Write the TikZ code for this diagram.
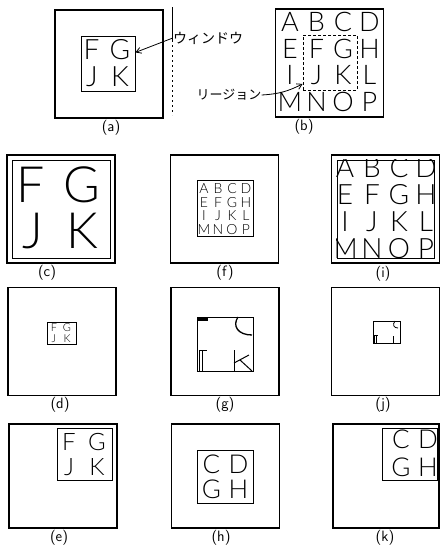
\documentclass[tikz,border=0pt]{standalone}
\usepackage{fontspec}
\newfontfamily\jpfont{Noto Sans CJK JP}
\newfontfamily\thinfont{Lato Light}
\usetikzlibrary{arrows.meta,positioning}

\begin{document}
\begin{tikzpicture}[x=1pt, y=-1pt,
  frame/.style={draw, line width=1.3pt, minimum width=108pt, minimum height=108pt, inner sep=0pt},
  win/.style={draw, line width=0.8pt, inner sep=0pt},
  region/.style={win, dash pattern=on 3pt off 2pt},
  glyph/.style={inner sep=0pt, font=\thinfont\fontsize{#1}{#1}\selectfont},
  tag/.style={inner sep=0pt, font=\sffamily\fontsize{15}{15}\selectfont},
  jp/.style={inner sep=0pt, font=\jpfont\fontsize{#1}{#1}\selectfont},
  line/.style={-{Straight Barb[length=5pt,width=6pt]}, line width=0.8pt},
  piece/.style={line width=1.3pt}
]
\useasboundingbox (0,0) rectangle (440,547);

% (a) window on the picture
\node[frame] (fa) at (109,64) {};
\node[win, minimum width=54pt, minimum height=55pt] (wa) at (108,63.5) {};
\node[glyph=28] (aF) at (91.5,50) {F};
\node[glyph=28] (aG) at (120,50) {G};
\node[glyph=28] (aJ) at (92,77) {J};
\node[glyph=28] (aK) at (120,77) {K};
\node[tag] (la) at (111,128) {(a)};

\draw[line width=0.6pt] (172,7) -- (172,40);
\draw[line width=0.5pt, dash pattern=on 2pt off 3pt] (172,40) -- (172,115);

\node[jp=14] (tw) at (208,38) {ウィンドウ};
\draw[line] (tw.west) -- (wa.22);

% (b) region
\node[frame, line width=1.7pt] (fb) at (329.5,63) {};
\foreach \ch [count=\i from 0] in {A,B,C,D,E,F,G,H,I,J,K,L,M,N,O,P} {
  \pgfmathtruncatemacro\cc{mod(\i,4)}
  \pgfmathtruncatemacro\rr{div(\i,4)}
  \node[glyph=27] (b\ch) at (290+26.5*\cc, 22+26.7*\rr) {\ch};
}
\node[region, minimum width=54pt, minimum height=55pt] (rb) at (330,62.5) {};
\node[tag] (lb) at (304,127) {(b)};

\node[jp=13] (tr) at (229,95) {リージョン};
\draw[line] (tr.east) to[bend right=12] (rb.218);

% (c)
\node[frame] (fc) at (61,209) {};
\node[win, minimum width=98pt, minimum height=98pt] (wc) at (61,209) {};
\node[glyph=50] (cF) at (31,185) {F};
\node[glyph=50] (cG) at (82,185) {G};
\node[glyph=50] (cJ) at (33,231) {J};
\node[glyph=50] (cK) at (82,231) {K};
\node[tag] (lc) at (47,273) {(c)};

% (f)
\node[frame] (ff) at (224.5,209) {};
\node[win, minimum width=56pt, minimum height=56pt] (wf) at (225,208) {};
\foreach \ch [count=\i from 0] in {A,B,C,D,E,F,G,H,I,J,K,L,M,N,O,P} {
  \pgfmathtruncatemacro\cc{mod(\i,4)}
  \pgfmathtruncatemacro\rr{div(\i,4)}
  \node[glyph=14] (f\ch) at (204+14*\cc, 189+13.5*\rr) {\ch};
}
\node[tag] (lf) at (225,273) {(f)};

% (i)
\node[frame] (fi) at (385.5,209) {};
\node[win, minimum width=97pt, minimum height=98pt] (wi) at (385.5,209) {};
\begin{scope}
  \clip (wi.north west) rectangle (wi.south east);
  \foreach \ch [count=\i from 0] in {A,B,C,D,E,F,G,H,I,J,K,L,M,N,O,P} {
    \pgfmathtruncatemacro\cc{mod(\i,4)}
    \pgfmathtruncatemacro\rr{div(\i,4)}
    \node[glyph=28] (i\ch) at (345+27*\cc, 168+27*\rr) {\ch};
  }
\end{scope}
\node[tag] (li) at (383,274) {(i)};

% (d)
\node[frame] (fd) at (62,341.5) {};
\node[win, minimum width=29pt, minimum height=22pt] (wd) at (61.5,333) {};
\node[glyph=11] (dF) at (54,328) {F};
\node[glyph=11] (dG) at (67,328) {G};
\node[glyph=11] (dJ) at (54,339) {J};
\node[glyph=11] (dK) at (67,339) {K};
\node[tag] (ld) at (60,405) {(d)};

% (g)
\node[frame] (fg) at (225,341.5) {};
\node[win, minimum width=56pt, minimum height=54pt] (wg) at (225,344) {};
\fill (198,317.5) rectangle (208,320.5);
\draw[piece] (238,317) .. controls (232,326) and (238,335) .. (252,335);
\draw[line width=0.9pt] (199,350) -- (207,350);
\draw[line width=0.9pt] (199.5,350) -- (199.5,371);
\draw[line width=0.9pt] (202.5,350) -- (202.5,371);
\draw[line width=1pt] (234,350) -- (234,371);
\draw[line width=1pt] (234,363) -- (249,355);
\draw[line width=1pt] (240,360) -- (252,371);
\node[tag] (lg) at (225,405) {(g)};

% (j)
\node[frame] (fj) at (385.5,341.5) {};
\node[win, minimum width=27pt, minimum height=22pt] (wj) at (386.5,332) {};
\draw[line width=0.8pt] (395,321) .. controls (392,325) and (394,328) .. (398,328);
\draw[line width=0.8pt] (374,335) -- (378,335);
\draw[line width=0.8pt] (374.5,335) -- (374.5,343);
\draw[line width=0.8pt] (376.5,335) -- (376.5,343);
\draw[line width=0.8pt] (393,336) -- (393,343);
\node[tag] (lj) at (383,405) {(j)};

% (e)
\node[frame, minimum height=104pt] (fe) at (63,476) {};
\node[win, minimum width=55pt, minimum height=52pt] (we) at (84.5,454) {};
\node[glyph=24] (eF) at (69,442) {F};
\node[glyph=24] (eG) at (97,442) {G};
\node[glyph=24] (eJ) at (69,467) {J};
\node[glyph=24] (eK) at (97,467) {K};
\node[tag] (le) at (59,538) {(e)};

% (h)
\node[frame, minimum height=104pt] (fh) at (225.5,476) {};
\node[win, minimum width=56pt, minimum height=53pt] (wh) at (225,476.5) {};
\node[glyph=26] (hC) at (211.5,464) {C};
\node[glyph=26] (hD) at (238.5,464) {D};
\node[glyph=26] (hG) at (211.5,489) {G};
\node[glyph=26] (hH) at (238.5,489) {H};
\node[tag] (lh) at (221,538) {(h)};

% (k)
\node[frame, minimum width=106pt, minimum height=104pt] (fk) at (386,476) {};
\node[win, minimum width=55pt, minimum height=52pt] (wk) at (409.5,454) {};
\begin{scope}
  \clip (wk.north west) rectangle (wk.south east);
  \node[glyph=26] (kC) at (401,439) {C};
  \node[glyph=26] (kD) at (428,439) {D};
  \node[glyph=26] (kG) at (401,467) {G};
  \node[glyph=26] (kH) at (428,467) {H};
\end{scope}
\node[tag] (lk) at (385,538) {(k)};
\end{tikzpicture}
\end{document}
